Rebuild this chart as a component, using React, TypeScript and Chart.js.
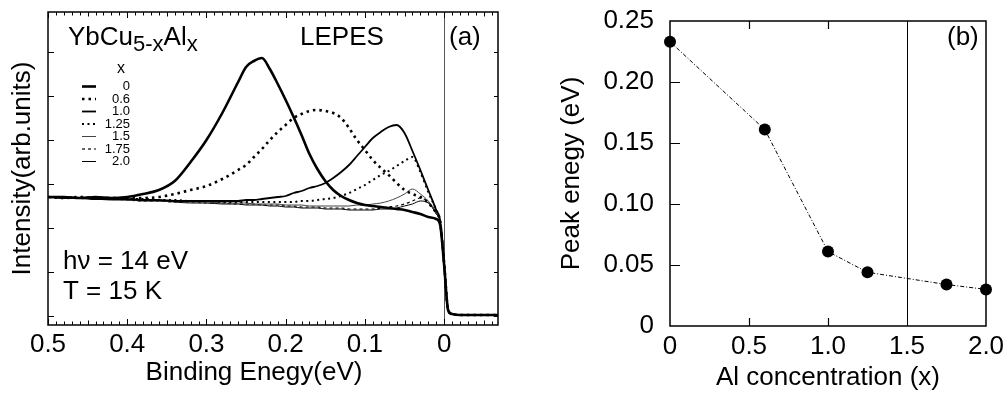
import React, { useEffect, useRef } from "react";
import { Chart, registerables } from "chart.js";

Chart.register(...registerables);

const FONT = "'Liberation Sans', Arial, Helvetica, sans-serif";

// ---------- Panel (a): LEPES spectra ----------
const ENERGY = [
  0.5, 0.48, 0.46, 0.44, 0.42, 0.4, 0.38, 0.36, 0.34, 0.32, 0.3, 0.28, 0.26,
  0.25, 0.24, 0.23, 0.22, 0.21, 0.2, 0.19, 0.18, 0.17, 0.16, 0.15, 0.14, 0.13,
  0.12, 0.11, 0.1, 0.09, 0.08, 0.07, 0.06, 0.05, 0.04, 0.03, 0.02, 0.01, 0.005,
  0.0, -0.005, -0.01, -0.02, -0.04, -0.07,
];

const INT_X0 = [
  128, 128, 127, 128, 127, 128, 131, 135, 144, 163, 185, 212, 243, 258, 264,
  267, 256, 241, 225, 208, 190, 171, 156, 144, 135, 129, 125, 122, 120, 119,
  118, 117, 116, 115, 113, 111, 108, 106, 100, 60, 15, 11, 10, 10, 10,
];
const INT_X06 = [
  128, 127, 128, 127, 127, 127, 127, 128, 131, 135, 139, 146, 155, 160, 168,
  176, 185, 193, 200, 207, 211, 214, 215, 214, 212, 207, 197, 185, 175, 165,
  157, 150, 142, 135, 131, 128, 122, 112, 103, 62, 15, 11, 10, 10, 10,
];
const INT_X10 = [
  128, 127, 127, 126, 126, 126, 125, 125, 124, 124, 124, 124, 124, 125, 125,
  126, 127, 128, 129, 132, 134, 137, 139, 142, 147, 153, 160, 169, 178, 187,
  193, 198, 200, 192, 174, 155, 135, 115, 104, 61, 15, 11, 10, 10, 10,
];
const INT_X125 = [
  128, 128, 127, 127, 126, 126, 126, 125, 125, 124, 124, 123, 123, 123, 123,
  123, 123, 123, 123, 123, 124, 124, 125, 126, 127, 129, 132, 136, 140, 145,
  150, 154, 159, 164, 168, 153, 133, 115, 104, 61, 15, 11, 10, 10, 10,
];
const INT_X15 = [
  128, 127, 127, 126, 126, 125, 125, 124, 124, 123, 123, 122, 122, 122, 121,
  121, 121, 121, 120, 120, 120, 119, 119, 119, 119, 119, 119, 120, 120, 121,
  122, 124, 127, 131, 136, 131, 124, 112, 103, 60, 15, 11, 10, 10, 10,
];
const INT_X175 = [
  128, 127, 127, 126, 126, 125, 124, 124, 123, 123, 122, 122, 121, 121, 121,
  120, 120, 120, 119, 119, 118, 118, 118, 117, 117, 117, 116, 116, 116, 116,
  117, 118, 119, 121, 124, 127, 123, 112, 103, 60, 15, 11, 10, 10, 10,
];
const INT_X20 = [
  128, 127, 127, 126, 125, 125, 124, 124, 123, 122, 122, 121, 121, 120, 120,
  120, 119, 119, 118, 118, 117, 117, 117, 116, 116, 116, 115, 115, 115, 115,
  116, 116, 117, 119, 121, 124, 122, 111, 102, 60, 15, 11, 10, 10, 10,
];

const SERIES_LABELS = ["0", "0.6", "1.0", "1.25", "1.5", "1.75", "2.0"];
const SERIES_A = [INT_X0, INT_X06, INT_X10, INT_X125, INT_X15, INT_X175, INT_X20];
const ENERGY_TICKS = [0.5, 0.4, 0.3, 0.2, 0.1, 0];
const INTENSITY_TICKS = [9, 53, 97, 141, 185, 229, 273];

const STYLES = [
  { w: 2.6, dash: [] as number[], color: "#000" },
  { w: 2.6, dash: [2.5, 4], color: "#000" },
  { w: 1.8, dash: [] as number[], color: "#000" },
  { w: 2, dash: [2, 3.5], color: "#000" },
  { w: 1, dash: [] as number[], color: "#444" },
  { w: 1.2, dash: [3, 3], color: "#000" },
  { w: 1, dash: [] as number[], color: "#000" },
];

// ---------- Panel (b): peak energy ----------
const CONC = [0, 0.6, 1.0, 1.25, 1.75, 2.0];
const PEAK = [0.233, 0.161, 0.061, 0.044, 0.034, 0.03];
const CONC_TICKS = [0, 0.5, 1.0, 1.5, 2.0];
const PEAK_TICKS = [0, 0.05, 0.1, 0.15, 0.2, 0.25];

const font = (size: number) => `${size}px ${FONT}`;

const panelAPlugin = {
  id: "panelA",
  beforeDatasetsDraw(chart: any) {
    const { ctx, chartArea: a, scales } = chart;
    const px = Math.round(scales.x.getPixelForValue(0)) + 0.5;
    ctx.save();
    ctx.strokeStyle = "#555";
    ctx.lineWidth = 1;
    ctx.beginPath();
    ctx.moveTo(px, a.top);
    ctx.lineTo(px, a.bottom);
    ctx.stroke();
    ctx.restore();
  },
  afterDraw(chart: any) {
    const { ctx, chartArea: a, scales } = chart;
    const x = scales.x;
    const y = scales.y;
    ctx.save();
    // frame
    ctx.strokeStyle = "#000";
    ctx.lineWidth = 1.5;
    ctx.strokeRect(a.left, a.top, a.right - a.left, a.bottom - a.top);
    // x minor / major ticks (inward)
    ctx.lineWidth = 1;
    ctx.beginPath();
    for (let k = -6; k <= 50; k++) {
      const v = k / 100;
      const p = Math.round(x.getPixelForValue(v)) + 0.5;
      const len = k % 10 === 0 ? 6 : k % 5 === 0 ? 4.5 : 3.5;
      ctx.moveTo(p, a.bottom);
      ctx.lineTo(p, a.bottom - len);
      ctx.moveTo(p, a.top);
      ctx.lineTo(p, a.top + len);
    }
    for (const v of INTENSITY_TICKS) {
      const p = Math.round(y.getPixelForValue(v)) + 0.5;
      ctx.moveTo(a.left, p);
      ctx.lineTo(a.left + 6, p);
      ctx.moveTo(a.right, p);
      ctx.lineTo(a.right - 4, p);
    }
    ctx.stroke();

    // texts
    ctx.fillStyle = "#000";
    ctx.textBaseline = "alphabetic";
    ctx.textAlign = "left";
    let cx = 68;
    ctx.font = font(26);
    ctx.fillText("YbCu", cx, 45);
    cx += ctx.measureText("YbCu").width;
    ctx.font = font(22);
    ctx.fillText("5-x", cx, 51);
    cx += ctx.measureText("5-x").width;
    ctx.font = font(26);
    ctx.fillText("Al", cx, 45);
    cx += ctx.measureText("Al").width;
    ctx.font = font(22);
    ctx.fillText("x", cx, 51);

    ctx.font = font(26);
    ctx.fillText("LEPES", 300, 45);
    ctx.fillText("(a)", 449, 45);
    ctx.fillText("h\u03bd = 14 eV", 63, 269);
    ctx.fillText("T = 15 K", 63, 299);

    // x-axis title
    ctx.textAlign = "center";
    ctx.fillText("Binding Enegy(eV)", x.getPixelForValue(0.24), 380);

    // legend
    ctx.font = font(16);
    ctx.fillText("x", 121, 73);
    ctx.textAlign = "right";
    ctx.font = font(13);
    SERIES_LABELS.forEach((lab, i) => {
      const base = 90 + i * 12.5;
      ctx.fillText(lab, 130, base);
      const st = STYLES[i];
      ctx.save();
      ctx.strokeStyle = st.color;
      ctx.lineWidth = st.w;
      ctx.setLineDash(st.dash);
      ctx.beginPath();
      ctx.moveTo(82, base - 3.5);
      ctx.lineTo(96, base - 3.5);
      ctx.stroke();
      ctx.restore();
    });
    ctx.restore();
  },
};

const panelBPlugin = {
  id: "panelB",
  beforeDatasetsDraw(chart: any) {
    const { ctx, chartArea: a, scales } = chart;
    const px = Math.round(scales.x.getPixelForValue(1.5)) + 0.5;
    ctx.save();
    ctx.strokeStyle = "#000";
    ctx.lineWidth = 1;
    ctx.beginPath();
    ctx.moveTo(px, a.top);
    ctx.lineTo(px, a.bottom);
    ctx.stroke();
    ctx.restore();
  },
  afterDraw(chart: any) {
    const { ctx, chartArea: a, scales } = chart;
    const x = scales.x;
    const y = scales.y;
    ctx.save();
    ctx.strokeStyle = "#000";
    ctx.lineWidth = 1.5;
    ctx.strokeRect(a.left, a.top, a.right - a.left, a.bottom - a.top);
    ctx.lineWidth = 1.2;
    ctx.beginPath();
    for (const v of PEAK_TICKS) {
      if (v <= 0 || v >= 0.25) continue;
      const p = Math.round(y.getPixelForValue(v)) + 0.5;
      ctx.moveTo(a.left, p);
      ctx.lineTo(a.left + 10, p);
    }
    for (const v of CONC_TICKS) {
      if (v <= 0 || v >= 1.5) continue;
      const p = Math.round(x.getPixelForValue(v)) + 0.5;
      ctx.moveTo(p, a.bottom);
      ctx.lineTo(p, a.bottom - 8);
      ctx.moveTo(p, a.top);
      ctx.lineTo(p, a.top + 8);
    }
    ctx.stroke();
    ctx.fillStyle = "#000";
    ctx.font = font(26);
    ctx.textAlign = "left";
    ctx.textBaseline = "alphabetic";
    ctx.fillText("(b)", 437, 45);
    ctx.restore();
  },
};

export default function App() {
  const refA = useRef<HTMLCanvasElement | null>(null);
  const refB = useRef<HTMLCanvasElement | null>(null);

  useEffect(() => {
    Chart.defaults.font.family = FONT;
    Chart.defaults.color = "#000";

    const datasetsA = SERIES_A.map((arr, i) => ({
      label: SERIES_LABELS[i],
      data: ENERGY.map((e, j) => ({ x: e, y: arr[j] })),
      borderColor: STYLES[i].color,
      borderWidth: STYLES[i].w,
      borderDash: STYLES[i].dash,
      borderCapStyle: "butt",
      pointRadius: 0,
      fill: false,
      cubicInterpolationMode: "monotone",
    }));

    const chartA = new Chart(refA.current as HTMLCanvasElement, {
      type: "line",
      data: { datasets: datasetsA as any },
      options: {
        responsive: false,
        animation: false,
        devicePixelRatio: 1,
        layout: { padding: { top: 12, right: 12, left: 0, bottom: 0 } },
        plugins: { legend: { display: false }, tooltip: { enabled: false } },
        scales: {
          x: {
            type: "linear",
            reverse: true,
            min: -0.068,
            max: 0.5,
            afterBuildTicks: (s: any) => {
              s.ticks = ENERGY_TICKS.map((v) => ({ value: v }));
            },
            afterFit: (s: any) => {
              s.height = 73;
            },
            grid: { display: false },
            border: { display: false },
            ticks: {
              color: "#000",
              font: { size: 26, family: FONT, lineHeight: 1 },
              padding: -1,
              maxRotation: 0,
              autoSkip: false,
              callback: (v: any) => (Number(v) === 0 ? "0" : Number(v).toFixed(1)),
            },
          },
          y: {
            type: "linear",
            min: 0,
            max: 313,
            afterBuildTicks: (s: any) => {
              s.ticks = INTENSITY_TICKS.map((v) => ({ value: v }));
            },
            afterFit: (s: any) => {
              s.width = 48;
            },
            grid: { display: false },
            border: { display: false },
            ticks: { display: false },
            title: {
              display: true,
              text: "Intensity(arb.units)",
              color: "#000",
              font: { size: 26, family: FONT },
              padding: { top: 7, bottom: 0 },
            },
          },
        },
      },
      plugins: [panelAPlugin],
    } as any);

    const chartB = new Chart(refB.current as HTMLCanvasElement, {
      type: "line",
      data: {
        datasets: [
          {
            label: "Peak energy",
            data: CONC.map((c, i) => ({ x: c, y: PEAK[i] })),
            borderColor: "#000",
            borderWidth: 1,
            borderDash: [4, 2, 1, 2],
            pointRadius: 6,
            pointBackgroundColor: "#000",
            pointBorderWidth: 0,
            fill: false,
            clip: false,
          },
        ] as any,
      },
      options: {
        responsive: false,
        animation: false,
        devicePixelRatio: 1,
        layout: { padding: { top: 13, right: 20, left: 0, bottom: 0 } },
        plugins: { legend: { display: false }, tooltip: { enabled: false } },
        scales: {
          x: {
            type: "linear",
            min: 0,
            max: 2.0,
            afterBuildTicks: (s: any) => {
              s.ticks = CONC_TICKS.map((v) => ({ value: v }));
            },
            afterFit: (s: any) => {
              s.height = 72;
            },
            grid: { display: false },
            border: { display: false },
            ticks: {
              color: "#000",
              font: { size: 26, family: FONT, lineHeight: 1 },
              padding: 0,
              maxRotation: 0,
              autoSkip: false,
              callback: (v: any) => (Number(v) === 0 ? "0" : Number(v).toFixed(1)),
            },
            title: {
              display: true,
              text: "Al concentration (x)",
              color: "#000",
              font: { size: 26, family: FONT },
              padding: { top: 0, bottom: 5 },
            },
          },
          y: {
            type: "linear",
            min: 0,
            max: 0.25,
            afterBuildTicks: (s: any) => {
              s.ticks = PEAK_TICKS.map((v) => ({ value: v }));
            },
            afterFit: (s: any) => {
              s.width = 160;
            },
            grid: { display: false },
            border: { display: false },
            ticks: {
              color: "#000",
              font: { size: 26, family: FONT, lineHeight: 1 },
              padding: 8,
              autoSkip: false,
              callback: (v: any) => (Number(v) === 0 ? "0" : Number(v).toFixed(2)),
            },
            title: {
              display: true,
              text: "Peak enegy (eV)",
              color: "#000",
              font: { size: 26, family: FONT },
              padding: { top: 46, bottom: 0 },
            },
          },
        },
      },
      plugins: [panelBPlugin],
    } as any);

    return () => {
      chartA.destroy();
      chartB.destroy();
    };
  }, []);

  return (
    <div
      style={{
        position: "fixed",
        left: 0,
        top: 0,
        width: 1006,
        height: 398,
        background: "#fff",
        overflow: "hidden",
      }}
    >
      <canvas
        ref={refA}
        width={510}
        height={398}
        style={{ position: "absolute", left: 0, top: 0, width: 510, height: 398 }}
      />
      <canvas
        ref={refB}
        width={496}
        height={398}
        style={{ position: "absolute", left: 510, top: 0, width: 496, height: 398 }}
      />
    </div>
  );
}
